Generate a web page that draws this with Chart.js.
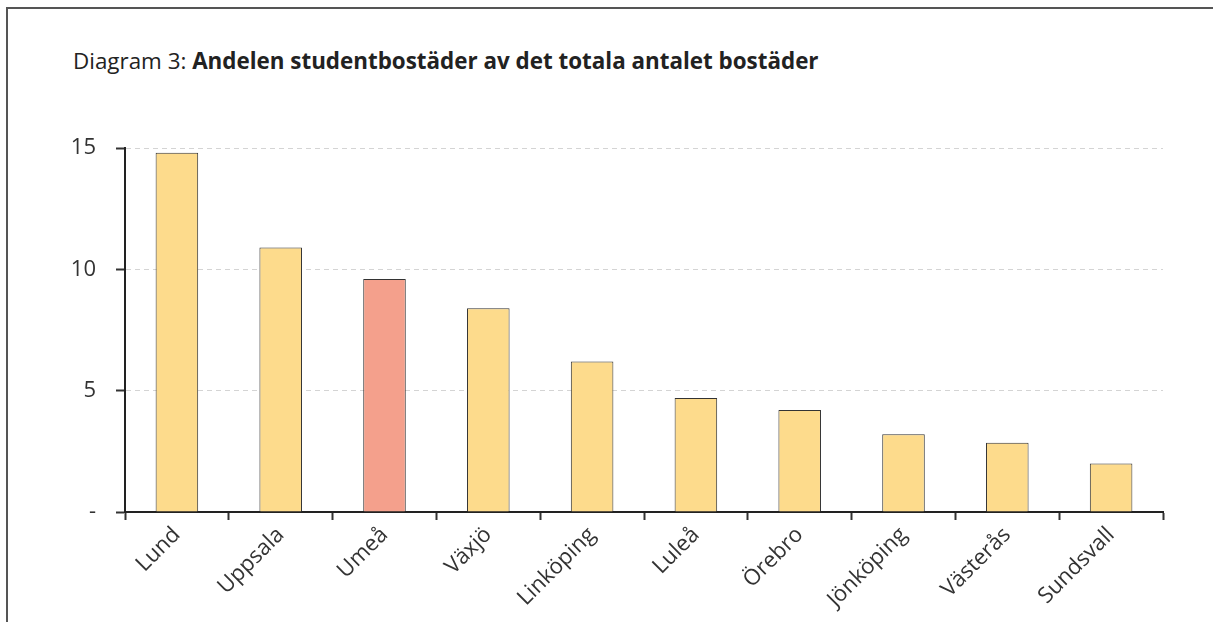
<!DOCTYPE html>
<html>
<head>
<meta charset="utf-8">
<script src="https://cdn.jsdelivr.net/npm/chart.js@4/dist/chart.umd.min.js"></script>
<style>
  html, body { margin: 0; padding: 0; background: #fff; font-family: "Open Sans", sans-serif; overflow: hidden; }
  #wrap { position: relative; width: 1213px; height: 622px; overflow: hidden; }
  .rule { position: absolute; background: #555; }
  #topRule { left: 6px; top: 7px; width: 1207px; height: 1.5px; }
  #leftRule { left: 6px; top: 7px; width: 1.5px; height: 615px; }
  #title { position: absolute; left: 73px; top: 45px; font-size: 22.4px; color: #222; white-space: nowrap; }
  #title b { font-weight: 700; }
  canvas { position: absolute; left: 0; top: 0; }
</style>
</head>
<body>
<div id="wrap">
  <div class="rule" id="topRule"></div>
  <div class="rule" id="leftRule"></div>
  <div id="title">Diagram 3: <b>Andelen studentbostäder av det totala antalet bostäder</b></div>
  <canvas id="chart" width="1213" height="622"></canvas>
</div>
<script>
const cities = ['Lund', 'Uppsala', 'Umeå', 'Växjö', 'Linköping', 'Luleå', 'Örebro', 'Jönköping', 'Västerås', 'Sundsvall'];
const share = [14.8, 10.9, 9.6, 8.4, 6.2, 4.7, 4.2, 3.2, 2.85, 2.0];
const yTicks = [0, 5, 10, 15];

const yellow = '#FDDB8C';
const red = '#F4A08C';
const colors = cities.map(c => c === 'Umeå' ? red : yellow);

new Chart(document.getElementById('chart').getContext('2d'), {
  type: 'bar',
  data: {
    labels: cities,
    datasets: [{
      data: share,
      backgroundColor: colors,
      borderColor: '#333',
      borderWidth: 1,
      barPercentage: 0.41,
      categoryPercentage: 1
    }]
  },
  options: {
    responsive: false,
    animation: false,
    layout: { padding: { left: 0, top: 148, right: 50, bottom: 0 } },
    plugins: { legend: { display: false }, tooltip: { enabled: false } },
    scales: {
      x: {
        grid: { drawOnChartArea: false, drawTicks: true, tickLength: 8, tickColor: '#333', tickWidth: 2 },
        border: { display: true, color: '#222', width: 2 },
        ticks: {
          minRotation: 45, maxRotation: 45, padding: 2,
          color: '#333', font: { family: 'Open Sans', size: 22 }
        },
        afterFit: s => { s.height = 110; }
      },
      y: {
        min: 0, max: 15,
        afterBuildTicks: s => { s.ticks = yTicks.map(v => ({ value: v })); },
        grid: { color: '#d4d4d4', tickColor: '#333', tickLength: 9, tickWidth: 2, lineWidth: 1, tickBorderDash: [] },
        border: { display: true, color: '#222', width: 2, dash: [5, 4] },
        ticks: {
          padding: 20, color: '#333', font: { family: 'Open Sans', size: 22 },
          callback: v => v === 0 ? '-' : v
        },
        afterFit: s => { s.width = 125; }
      }
    }
  }
});
</script>
</body>
</html>
